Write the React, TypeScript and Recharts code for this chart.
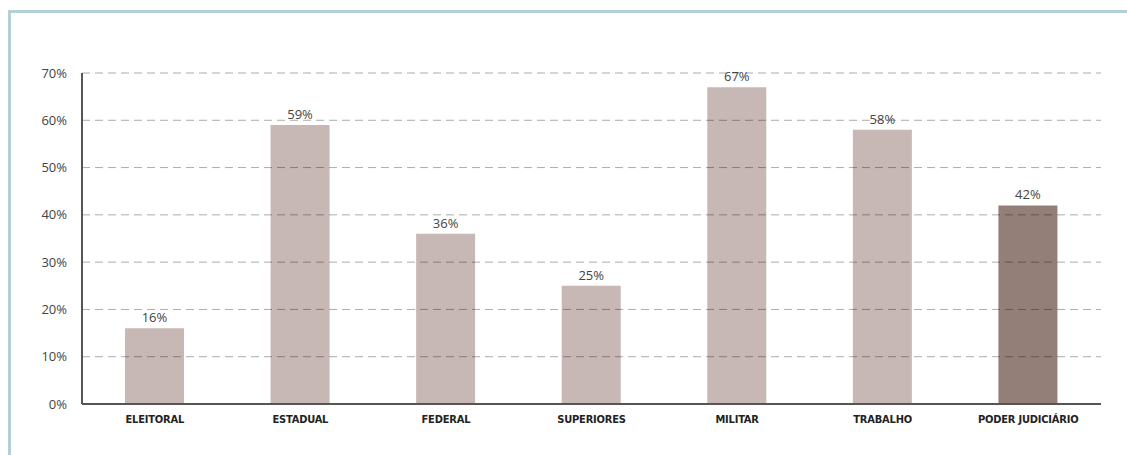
import { BarChart, Bar, XAxis, YAxis, Cell, LabelList, ReferenceLine } from 'recharts';

const CATEGORIES = ['ELEITORAL', 'ESTADUAL', 'FEDERAL', 'SUPERIORES', 'MILITAR', 'TRABALHO', 'PODER JUDICIÁRIO'];
const VALUES = [16, 59, 36, 25, 67, 58, 42];
const Y_TICKS = [0, 10, 20, 30, 40, 50, 60, 70];

const BAR_COLOR = '#c8b8b5';
const TOTAL_COLOR = '#937f78';

const data = CATEGORIES.map((name, i) => ({ name, value: VALUES[i] }));

export default function App() {
  return (
    <div style={{ position: 'absolute', left: 0, top: 0, width: 1127, height: 455, background: '#fff' }}>
      {/* frame */}
      <div style={{
        position: 'absolute', left: 8, top: 10, right: 0, bottom: 0,
        borderTop: '3px solid #b4d0d6', borderLeft: '3px solid #b4d0d6',
      }} />
      <BarChart
        width={1127}
        height={455}
        data={data}
        margin={{ top: 73, right: 26, bottom: 21, left: 0 }}
        barSize={59}
        style={{ position: 'absolute', left: 0, top: 0 }}
      >
        <XAxis
          dataKey="name"
          height={30}
          tickLine={false}
          tickMargin={5}
          interval={0}
          axisLine={{ stroke: '#555', strokeWidth: 2 }}
          tick={{ fontSize: 11, fontWeight: 'bold', fill: '#222', fontFamily: '"DejaVu Sans Condensed", "DejaVu Sans", sans-serif', letterSpacing: -0.2 }}
        />
        <YAxis
          width={82}
          domain={[0, 70]}
          ticks={Y_TICKS}
          tickFormatter={v => `${v}%`}
          tickLine={false}
          tickMargin={9}
          axisLine={{ stroke: '#555', strokeWidth: 2 }}
          tick={{ fontSize: 13, fill: '#444', fontFamily: '"Open Sans", sans-serif' }}
        />
        <Bar dataKey="value" isAnimationActive={false}>
          {data.map((d, i) => (
            <Cell key={d.name} fill={i === data.length - 1 ? TOTAL_COLOR : BAR_COLOR} />
          ))}
          <LabelList
            dataKey="value"
            position="top"
            offset={6}
            formatter={(v: any) => `${v}%`}
            style={{ fontSize: 13, fill: '#444', fontFamily: '"Open Sans", sans-serif' }}
          />
        </Bar>
        {Y_TICKS.filter(t => t > 0).map(t => (
          <ReferenceLine key={t} y={t} stroke="#000" strokeOpacity={0.33} strokeDasharray="8 5" strokeWidth={1} />
        ))}
      </BarChart>
    </div>
  );
}
